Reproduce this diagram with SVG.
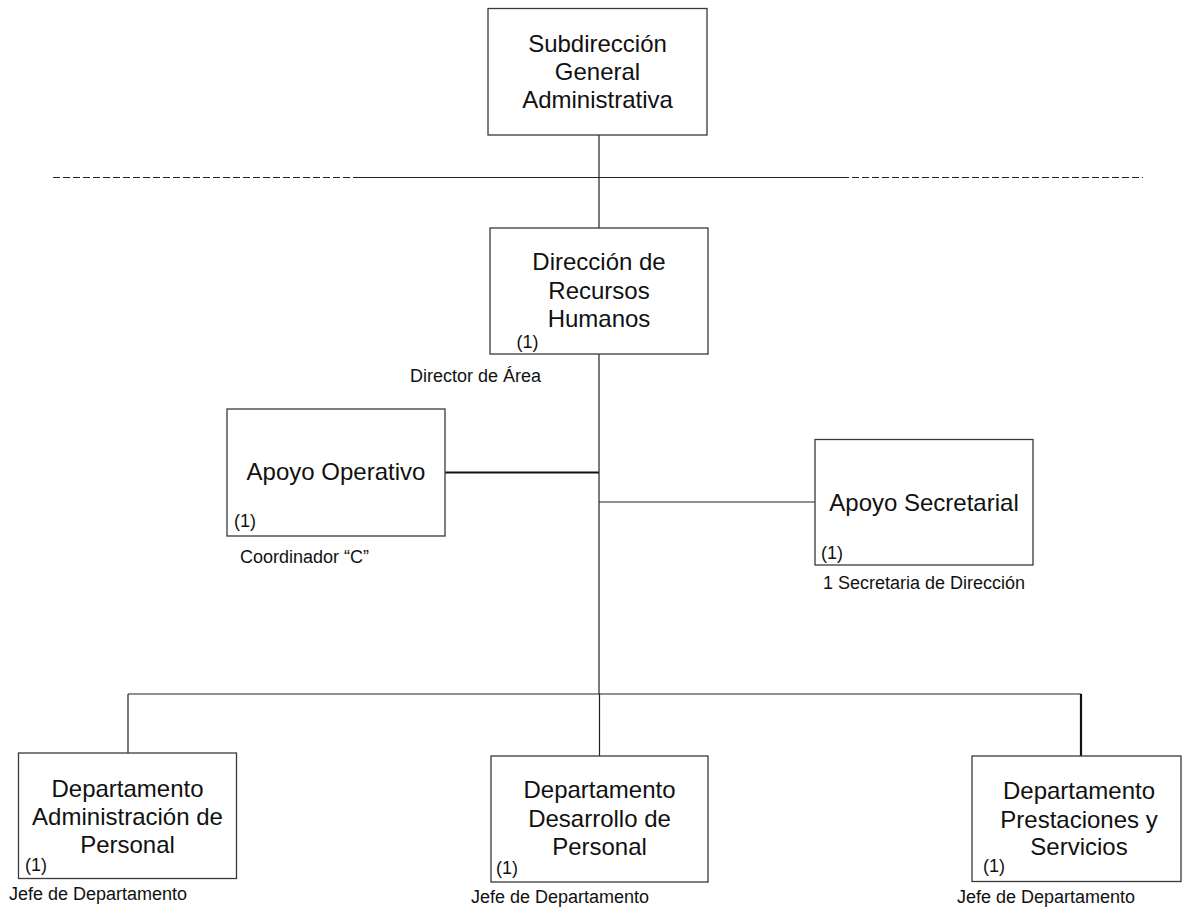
<svg xmlns="http://www.w3.org/2000/svg" width="1183" height="909" viewBox="0 0 1183 909">
<style>
.box{fill:#fff;stroke:#3a3a3a;stroke-width:1.3}
.t{font-family:"Liberation Sans",Arial,sans-serif;font-size:24px;fill:#111;text-anchor:middle}
.s{font-family:"Liberation Sans",Arial,sans-serif;font-size:18px;fill:#111}
.ln{stroke:#222;stroke-width:1.2;fill:none}
.thick{stroke:#111;stroke-width:2.2;fill:none}
.dash{stroke:#222;stroke-width:1.2;stroke-dasharray:7 3;fill:none}
</style>
<g id="connectors">
<line class="dash" x1="53" y1="177.5" x2="353" y2="177.5"/>
<line class="ln" x1="353" y1="177.5" x2="842" y2="177.5"/>
<line class="dash" x1="842" y1="177.5" x2="1143" y2="177.5"/>
<line class="ln" x1="599" y1="135" x2="599" y2="228"/>
<line class="ln" x1="599" y1="354" x2="599" y2="694"/>
<line class="thick" x1="445" y1="472.5" x2="599" y2="472.5"/>
<line class="ln" x1="599" y1="502" x2="815" y2="502"/>
<line class="ln" x1="128" y1="694" x2="1081" y2="694"/>
<line class="ln" x1="128" y1="694" x2="128" y2="753"/>
<line class="ln" x1="599.5" y1="694" x2="599.5" y2="756"/>
<line class="thick" x1="1081" y1="694" x2="1081" y2="756"/>
</g>
<g id="subdireccion">
<rect class="box" x="488" y="8.5" width="219" height="126.5"/>
<text class="t" x="597.5" y="52">Subdirección</text>
<text class="t" x="597.5" y="80">General</text>
<text class="t" x="597.5" y="108">Administrativa</text>
</g>
<g id="direccion">
<rect class="box" x="490" y="228" width="218" height="126"/>
<text class="t" x="599" y="270">Dirección de</text>
<text class="t" x="599" y="298.5">Recursos</text>
<text class="t" x="599" y="326.5">Humanos</text>
<text class="s" x="516.5" y="348">(1)</text>
<text class="s" x="410" y="381.5">Director de Área</text>
</g>
<g id="apoyo-operativo">
<rect class="box" x="227" y="409" width="218" height="127"/>
<text class="t" x="336" y="480">Apoyo Operativo</text>
<text class="s" x="234" y="527">(1)</text>
<text class="s" x="240" y="563">Coordinador “C”</text>
</g>
<g id="apoyo-secretarial">
<rect class="box" x="815" y="439.5" width="218" height="125.5"/>
<text class="t" x="924" y="511">Apoyo Secretarial</text>
<text class="s" x="821" y="559">(1)</text>
<text class="s" x="823" y="589">1 Secretaria de Dirección</text>
</g>
<g id="depto-administracion">
<rect class="box" x="18.5" y="753" width="218" height="125.5"/>
<text class="t" x="127.5" y="797">Departamento</text>
<text class="t" x="127.5" y="825">Administración de</text>
<text class="t" x="127.5" y="852.5">Personal</text>
<text class="s" x="25" y="871">(1)</text>
<text class="s" x="9" y="900">Jefe de Departamento</text>
</g>
<g id="depto-desarrollo">
<rect class="box" x="491" y="756" width="217" height="126"/>
<text class="t" x="599.5" y="798">Departamento</text>
<text class="t" x="599.5" y="827">Desarrollo de</text>
<text class="t" x="599.5" y="855">Personal</text>
<text class="s" x="496" y="874">(1)</text>
<text class="s" x="471" y="903">Jefe de Departamento</text>
</g>
<g id="depto-prestaciones">
<rect class="box" x="972" y="756" width="209" height="125.5"/>
<text class="t" x="1079" y="799">Departamento</text>
<text class="t" x="1079" y="828">Prestaciones y</text>
<text class="t" x="1079" y="855">Servicios</text>
<text class="s" x="983" y="872">(1)</text>
<text class="s" x="957" y="903">Jefe de Departamento</text>
</g>
</svg>
